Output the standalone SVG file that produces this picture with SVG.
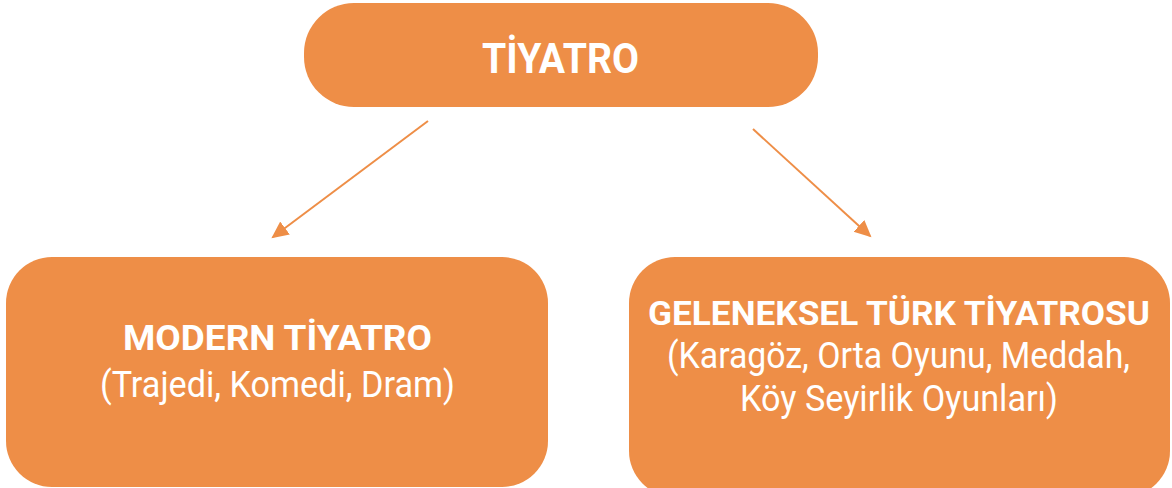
<svg xmlns="http://www.w3.org/2000/svg" width="1172" height="488" viewBox="0 0 1172 488">
<style>
.box{fill:#EE8E47;}
.t{fill:#FFFFFF;font-family:Roboto,"DejaVu Sans",sans-serif;text-anchor:middle;}
.b{font-weight:bold;}
.c{stroke:#EE8E47;stroke-width:2;fill:none;marker-end:url(#ah);}
</style>
<defs>
<marker id="ah" markerUnits="userSpaceOnUse" markerWidth="20" markerHeight="18" refX="15" refY="8" orient="auto">
<path d="M0,0 L17,8 L0,16 z" fill="#EE8E47"/>
</marker>
</defs>
<rect width="1172" height="488" fill="#FFFFFF"/>
<g id="connectors">
<line class="c" x1="428" y1="121" x2="273" y2="237"/>
<line class="c" x1="753" y1="129" x2="870" y2="236"/>
</g>
<g id="node-tiyatro">
<rect class="box" x="304" y="3" width="514" height="104" rx="50" ry="50"/>
<text class="t b" x="560.5" y="73" font-size="43" textLength="157" lengthAdjust="spacingAndGlyphs">TİYATRO</text>
</g>
<g id="node-modern">
<rect class="box" x="6" y="257" width="542" height="230" rx="46" ry="46"/>
<text class="t b" x="277.5" y="350" font-size="35" textLength="309" lengthAdjust="spacingAndGlyphs">MODERN TİYATRO</text>
<text class="t" x="277.5" y="397" font-size="36" textLength="355" lengthAdjust="spacingAndGlyphs">(Trajedi, Komedi, Dram)</text>
</g>
<g id="node-geleneksel">
<rect class="box" x="629" y="257" width="541" height="240" rx="46" ry="46"/>
<text class="t b" x="899" y="325" font-size="34" textLength="502" lengthAdjust="spacingAndGlyphs">GELENEKSEL TÜRK TİYATROSU</text>
<text class="t" x="898.5" y="368" font-size="36" textLength="463" lengthAdjust="spacingAndGlyphs">(Karagöz, Orta Oyunu, Meddah,</text>
<text class="t" x="899" y="411" font-size="36" textLength="318" lengthAdjust="spacingAndGlyphs">Köy Seyirlik Oyunları)</text>
</g>
</svg>
